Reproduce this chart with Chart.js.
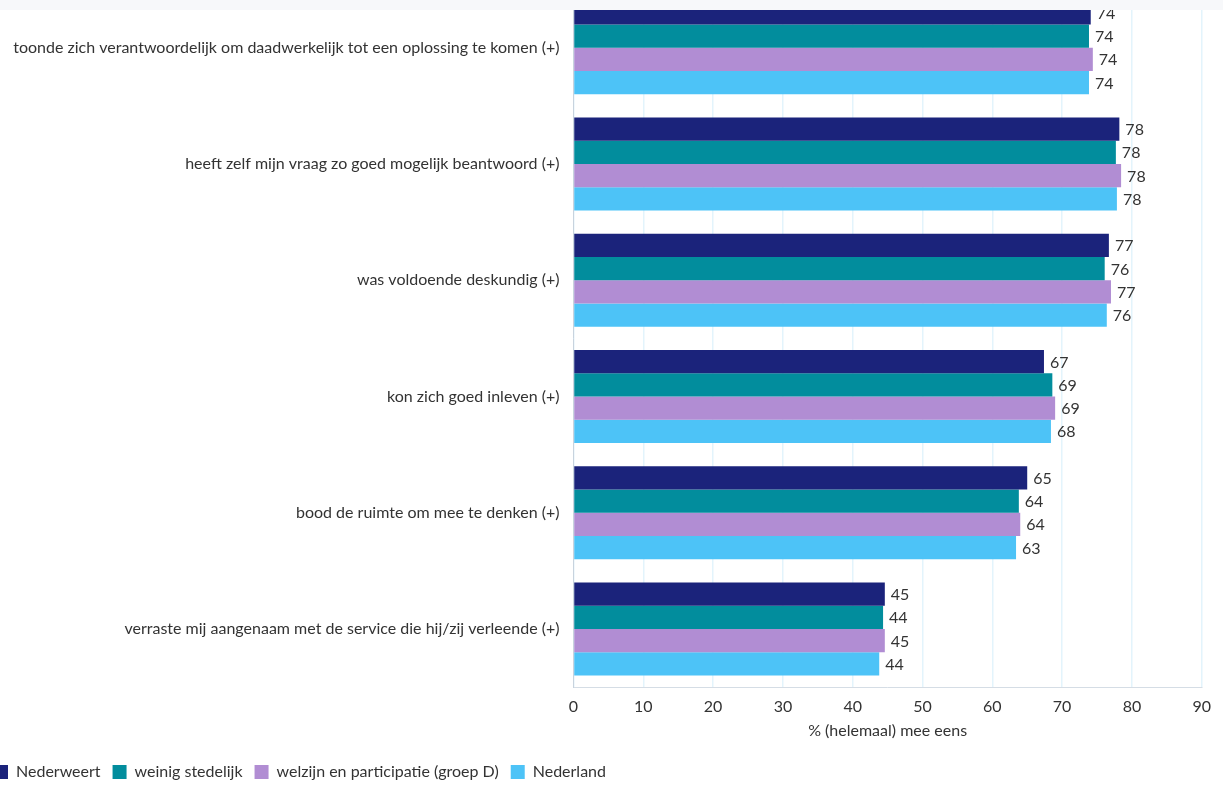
<!DOCTYPE html>
<html>
<head>
<meta charset="utf-8">
<script src="https://cdn.jsdelivr.net/npm/chart.js@4"></script>
<style>
    html, body { margin: 0; padding: 0; background: #fff; overflow: hidden; }
    #topbar { position: absolute; left: 0; top: 0; width: 1223px; height: 10px; background: #f7f8fa; z-index: 2; }
    #wrap { position: absolute; left: -18px; top: -26px; width: 1241px; height: 816px; }
</style>
</head>
<body>
<div id="topbar"></div>
<div id="wrap"><canvas id="chart"></canvas></div>
<script>
const categories = [
    "toonde zich verantwoordelijk om daadwerkelijk tot een oplossing te komen (+)",
    "heeft zelf mijn vraag zo goed mogelijk beantwoord (+)",
    "was voldoende deskundig (+)",
    "kon zich goed inleven (+)",
    "bood de ruimte om mee te denken (+)",
    "verraste mij aangenaam met de service die hij/zij verleende (+)",
]
const nederweert = [74.1, 78.2, 76.7, 67.4, 65.0, 44.6]
const weinigStedelijk = [73.85, 77.7, 76.1, 68.6, 63.8, 44.35]
const welzijn = [74.4, 78.45, 77.0, 69.0, 64.0, 44.6]
const nederland = [73.85, 77.85, 76.4, 68.4, 63.4, 43.8]
const xTicks = [0, 10, 20, 30, 40, 50, 60, 70, 80, 90]

const fontFamily = "Lato, 'Noto Sans', sans-serif"
const textColor = "#333333"

// value at the end of each bar, rounded like the source
const valueLabels = {
    id: "valueLabels",
    afterDatasetsDraw(chart) {
        const ctx = chart.ctx
        ctx.save()
        ctx.font = `16px ${fontFamily}`
        ctx.fillStyle = textColor
        ctx.textAlign = "left"
        ctx.textBaseline = "middle"
        chart.data.datasets.forEach((dataset, i) => {
            chart.getDatasetMeta(i).data.forEach((bar, j) => {
                ctx.fillText(String(Math.round(dataset.data[j])), bar.x + 6, bar.y + 1)
            })
        })
        ctx.restore()
    },
}

new Chart(document.getElementById("chart"), {
    type: "bar",
    data: {
        labels: categories,
        datasets: [
            { label: "Nederweert", data: nederweert, backgroundColor: "#1b237b" },
            { label: "weinig stedelijk", data: weinigStedelijk, backgroundColor: "#028d9d" },
            { label: "welzijn en participatie (groep D)", data: welzijn, backgroundColor: "#b18dd3" },
            { label: "Nederland", data: nederland, backgroundColor: "#4dc3f7" },
        ],
    },
    options: {
        indexAxis: "y",
        responsive: true,
        maintainAspectRatio: false,
        animation: false,
        datasets: {
            bar: { categoryPercentage: 0.8, barPercentage: 1 },
        },
        layout: {
            padding: { left: 0, right: 21, top: 0, bottom: 0 },
        },
        plugins: {
            tooltip: { enabled: false },
            legend: {
                position: "bottom",
                align: "start",
                labels: {
                    boxWidth: 14,
                    boxHeight: 14,
                    padding: 12,
                    color: textColor,
                    font: { family: fontFamily, size: 16 },
                },
            },
        },
        scales: {
            x: {
                min: 0,
                max: 90,
                afterBuildTicks(scale) {
                    scale.ticks = xTicks.map((value) => ({ value }))
                },
                grid: { color: "#e3f4fc", lineWidth: 1.5, drawTicks: false },
                border: { color: "#d5dde5" },
                ticks: {
                    color: textColor,
                    padding: 12,
                    font: { family: fontFamily, size: 16, lineHeight: 1 },
                },
                title: {
                    display: true,
                    text: "% (helemaal) mee eens",
                    color: textColor,
                    padding: { top: 0, bottom: 17 },
                    font: { family: fontFamily, size: 16, lineHeight: 0.5 },
                },
            },
            y: {
                afterFit(scale) {
                    scale.width = 591.5
                },
                grid: { display: false },
                border: { color: "#c8d3de" },
                ticks: {
                    color: textColor,
                    padding: 6,
                    font: { family: fontFamily, size: 16 },
                },
            },
        },
    },
    plugins: [valueLabels],
})
</script>
</body>
</html>
